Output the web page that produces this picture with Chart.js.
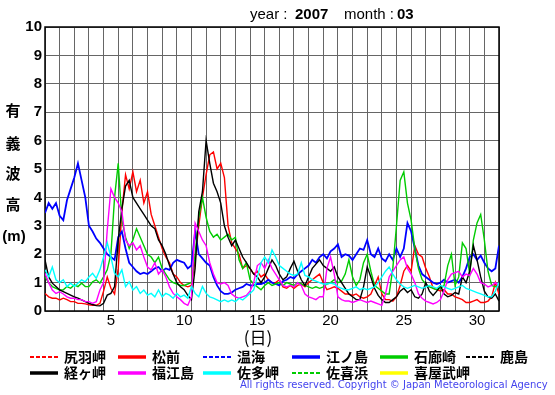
<!DOCTYPE html>
<html>
<head>
<meta charset="utf-8">
<script src="https://cdn.jsdelivr.net/npm/chart.js@4.4.0/dist/chart.umd.min.js"></script>
<style>
html, body { margin: 0; padding: 0; background: #fff; }
</style>
</head>
<body>
<canvas id="wave" width="555" height="395"></canvas>
<script>
// one value every 6 hours, day 0 = 1 March 00:00
var sampleStep = 0.25;
var dayLabels = [5, 10, 15, 20, 25, 30];

var stationNames = ['尻羽岬', '松前', '温海', '江ノ島', '石廊崎', '鹿島', '経ヶ岬', '福江島', '佐多岬', '佐喜浜', '喜屋武岬'];
var stationColors = ['#ff0000', '#ff0000', '#0000ff', '#0000ff', '#00cc00', '#000000', '#000000', '#ff00ff', '#00ffff', '#00cc00', '#ffff00'];
var stationDashed = [true, false, true, false, false, true, false, false, false, true, false];

var matsumae = [
  0.62, 0.5, 0.45, 0.45,  0.39, 0.45, 0.4, 0.33,  0.33, 0.27, 0.27, 0.25,  0.22, 0.2, 0.2, 0.27,
  0.7, 1.2, 0.8, 0.6,  1.5, 3.5, 4.8, 4.3,  4.9, 4.2, 4.6, 3.8,  4.2, 3.4, 3.0, 2.6,
  2.2, 1.9, 1.7, 1.3,  1.2, 1.0, 0.9, 0.85,  0.9, 1.8, 3.0, 4.0,  4.8, 5.5, 5.6, 5.0,
  5.2, 4.7, 3.0, 2.4,  2.2, 2.0, 1.5, 1.6,  1.5, 1.3, 1.4, 1.2,  1.3, 1.1, 1.0, 1.0,
  1.1, 0.85, 0.8, 0.9,  0.8, 0.9, 0.95, 0.85,  1.0, 1.1, 1.2, 1.3,  1.0, 0.75, 0.8, 0.85,
  0.8, 0.7, 0.6, 0.6,  0.55, 0.6, 0.5, 0.45,  0.5, 0.6, 0.9, 1.2,  0.6, 0.4, 0.4, 0.35,
  0.5, 0.9, 1.4, 1.6,  1.4, 2.3, 2.0, 1.9,  1.5, 1.2, 0.8, 0.75,  0.7, 0.75, 0.6, 0.6,
  0.5, 0.45, 0.4, 0.3,  0.3, 0.35, 0.4, 0.3,  0.3, 0.35, 0.5, 1.0,  0.6
];
var enoshima = [
  3.45, 3.8, 3.6, 3.8,  3.35, 3.2, 3.9, 4.3,  4.7, 5.2, 4.6, 4.0,  3.0, 2.8, 2.55, 2.4,
  2.2, 2.0, 1.9, 1.8,  2.6, 2.8, 2.2, 1.7,  1.55, 1.4, 1.3, 1.35,  1.3, 1.4, 1.5, 1.55,
  1.4, 1.5, 1.45, 1.7,  1.8, 1.75, 1.7, 1.5,  1.6, 2.8, 2.0, 1.85,  1.7, 1.6, 1.2, 0.9,
  0.7, 0.6, 0.6, 0.65,  0.75, 0.8, 0.85, 0.95,  0.9, 0.9, 0.95, 0.95,  1.0, 1.1, 1.0, 0.95,
  0.9, 1.05, 1.1, 1.2,  1.15, 1.3, 1.4, 1.5,  1.6, 1.8, 1.7, 1.9,  2.0, 1.85, 2.1, 2.2,
  2.35, 1.9, 2.0, 1.95,  1.8, 2.0, 2.2, 2.15,  2.5, 2.0, 1.9, 2.2,  1.85, 1.75, 2.0, 1.8,
  2.2, 1.9, 2.2, 3.1,  2.8, 2.2, 1.6, 1.3,  1.2, 1.1, 1.0, 0.95,  1.0, 1.1, 1.0, 1.05,
  1.1, 1.0, 1.2, 1.5,  1.9, 2.0, 1.8, 1.95,  1.7, 1.5, 1.4, 1.5,  2.3
];
var irozaki = [
  1.2, 1.0, 0.86, 0.8,  0.74, 0.75, 0.86, 0.8,  0.92, 0.86, 0.98, 0.86,  0.86, 1.03, 1.1, 0.98,
  1.2, 1.45, 2.0, 4.0,  5.2, 3.2, 2.6, 2.2,  2.5, 2.9, 2.6, 2.3,  2.0, 1.9, 1.7, 1.9,
  1.5, 1.3, 1.1, 1.0,  0.95, 0.9, 0.9, 0.95,  1.0, 2.0, 3.3, 4.0,  3.3, 2.8, 2.6, 2.7,
  2.5, 2.6, 2.7, 2.5,  2.6, 1.8, 1.5, 1.7,  1.1, 0.95, 0.85, 0.75,  0.9, 1.0, 0.9, 0.95,
  1.0, 0.9, 1.0, 0.95,  0.9, 1.0, 0.95, 0.9,  0.85, 0.8, 0.85, 0.8,  0.85, 0.95, 1.0, 1.1,
  1.0, 1.05, 1.3, 1.8,  1.2, 0.9, 1.1, 1.7,  2.0, 1.4, 0.9, 0.8,  0.7, 0.6, 0.6, 1.5,
  3.0, 4.6, 4.9, 3.8,  3.2, 2.2, 1.5, 1.1,  0.95, 0.85, 0.8, 0.75,  0.8, 0.9, 1.6, 2.0,
  0.9, 1.2, 2.4, 2.2,  1.3, 2.5, 3.1, 3.4,  2.5, 1.4, 0.9, 0.85,  0.9
];
var kyogamisaki = [
  1.8, 1.2, 0.98, 0.86,  0.74, 0.68, 0.62, 0.56,  0.5, 0.45, 0.39, 0.33,  0.27, 0.23, 0.19, 0.18,
  0.27, 0.56, 0.62, 0.86,  2.5, 3.6, 4.4, 4.6,  4.0, 3.8, 3.6, 3.4,  3.2, 3.0, 2.9, 2.5,
  2.3, 2.0, 1.6, 1.3,  1.0, 0.85, 0.75, 0.55,  0.4, 1.5, 3.5, 4.2,  6.0, 5.2, 4.5, 4.2,
  3.8, 3.0, 2.6, 2.3,  2.5, 2.2, 1.9, 1.7,  1.5, 1.3, 1.2, 1.0,  1.2, 1.5, 1.8, 1.6,
  1.3, 1.1, 1.2, 1.5,  1.75, 1.4, 1.1, 0.9,  1.2, 1.5, 1.65, 1.8,  1.6, 1.5, 1.4, 1.55,
  1.2, 1.0, 0.8, 0.6,  0.5, 0.4, 0.4, 0.85,  1.55, 1.2, 0.8, 0.55,  0.4, 0.3, 0.3, 0.4,
  0.5, 0.7, 0.8, 0.65,  0.75, 0.5, 0.45, 0.6,  1.0, 0.7, 0.55, 0.7,  0.9, 0.6, 0.5, 0.55,
  0.65, 0.6, 1.2, 1.0,  1.4, 2.3, 1.8, 1.2,  0.7, 0.5, 0.45, 0.6,  0.35
];
var fukuejima = [
  1.33, 1.0, 0.74, 0.62,  0.68, 0.6, 0.5, 0.45,  0.45, 0.4, 0.4, 0.33,  0.33, 0.27, 0.33, 0.74,
  1.0, 2.85, 4.3, 4.0,  3.8, 3.5, 2.5, 2.3,  2.4, 2.15, 2.3, 1.9,  1.55, 1.45, 1.7, 1.3,
  1.45, 1.2, 0.85, 0.62,  0.5, 0.4, 0.27, 0.2,  0.5, 3.1, 2.8, 2.5,  2.3, 1.7, 1.3, 1.0,
  0.95, 1.0, 0.9, 0.6,  0.5, 0.45, 0.5, 0.55,  0.7, 1.0, 1.6, 1.7,  1.5, 1.8, 1.5, 1.3,
  1.1, 0.9, 0.85, 0.9,  0.85, 1.0, 0.9, 0.6,  0.5, 0.45, 0.4, 0.5,  0.5, 1.5, 1.9, 1.3,
  0.5, 0.4, 0.35, 0.35,  0.3, 0.35, 0.4, 0.35,  0.3, 0.35, 0.3, 0.25,  0.2, 0.6, 1.2, 1.4,
  1.6, 1.8, 1.9, 1.5,  1.3, 1.0, 0.6, 0.45,  0.35, 0.3, 0.25, 0.3,  0.4, 0.7, 1.1, 1.3,
  1.35, 1.4, 1.2, 1.3,  1.25, 1.5, 1.3, 1.0,  0.95, 0.85, 0.9, 1.0,  0.9
];
var satamisaki = [
  1.45, 1.2, 1.55, 1.1,  1.0, 1.1, 0.86, 0.98,  0.86, 0.98, 1.1, 1.03,  1.2, 1.33, 1.15, 1.45,
  1.9, 2.4, 1.9, 1.33,  1.2, 1.45, 0.86, 1.03,  0.74, 0.86, 0.62, 0.74,  0.56, 0.62, 0.5, 0.74,
  0.5, 0.62, 0.56, 0.45,  0.62, 0.5, 0.56, 0.45,  0.86, 0.62, 0.5, 0.86,  0.62, 0.5, 0.45, 0.39,
  0.33, 0.39, 0.33, 0.39,  0.33, 0.45, 0.39, 0.5,  0.62, 0.74, 1.2, 1.7,  1.9, 1.7, 2.15, 1.9,
  1.6, 1.5, 1.4, 1.3,  1.25, 1.3, 1.7, 1.25,  1.2, 1.1, 1.05, 1.0,  0.95, 0.95, 0.98, 0.95,
  0.85, 0.8, 0.75, 0.75,  0.8, 0.85, 0.75, 0.8,  0.75, 0.8, 0.85, 1.0,  1.2, 1.4, 1.55, 1.3,
  1.1, 0.95, 0.85, 0.8,  0.85, 0.9, 0.85, 0.8,  0.85, 0.9, 0.85, 0.8,  0.9, 0.85, 0.8, 0.75,
  0.8, 0.85, 0.9, 0.8,  0.75, 0.7, 0.65, 0.6,  0.55, 0.5, 0.5, 0.7,  1.0
];

// stations without data this month stay null (legend only)
var stationValues = [null, matsumae, null, enoshima, irozaki, null, kyogamisaki, fukuejima, satamisaki, null, null];

function toPoints(values) {
  return values.map(function (v, i) { return { x: i * sampleStep, y: v }; });
}

var datasets = [];
stationNames.forEach(function (name, i) {
  if (!stationValues[i]) return;
  datasets.push({
    label: name,
    data: toPoints(stationValues[i]),
    borderColor: stationColors[i],
    borderWidth: stationColors[i] === '#0000ff' ? 1.8 : 1.4,
    pointRadius: 0,
    tension: 0,
    fill: false
  });
});
datasets.reverse(); // first station drawn underneath

var gridGrey = '#666666';

var pageText = {
  id: 'pageText',
  beforeDatasetsDraw: function (chart) {
    var ctx = chart.ctx, a = chart.chartArea;
    ctx.save();
    ctx.strokeStyle = '#000';
    ctx.lineWidth = 1.5;
    ctx.strokeRect(a.left, a.top, a.right - a.left, a.bottom - a.top);
    ctx.restore();
  },
  afterDraw: function (chart) {
    var ctx = chart.ctx;
    ctx.save();
    ctx.fillStyle = '#000';
    ctx.textBaseline = 'middle';

    // title
    ctx.textAlign = 'left';
    ctx.font = '15px "Liberation Sans"';
    ctx.fillText('year :', 250, 15);
    ctx.fillText('month :', 344, 15);
    ctx.font = 'bold 15px "Liberation Sans"';
    ctx.fillText('2007', 295, 15);
    ctx.fillText('03', 397, 15);

    // y axis title, stacked
    ctx.textAlign = 'center';
    ctx.font = 'bold 15px "Noto Sans CJK JP"';
    var yTitle = ['有', '義', '波', '高'];
    var yPos = [110, 143, 173, 204];
    yTitle.forEach(function (ch, i) { ctx.fillText(ch, 13, yPos[i]); });
    ctx.font = 'bold 15px "Liberation Sans"';
    ctx.fillText('(m)', 14, 237);

    // x axis title
    ctx.font = '17px "Noto Sans CJK JP"';
    ctx.fillText('(日)', 258, 338);

    // legend
    var cols = [30, 118, 203, 292, 380, 466];
    var rows = [357, 373];
    ctx.textAlign = 'left';
    ctx.font = 'bold 14px "Noto Sans CJK JP"';
    stationNames.forEach(function (name, i) {
      var r = i < 6 ? 0 : 1;
      var c = i < 6 ? i : i - 6;
      var x = cols[c], y = rows[r];
      ctx.beginPath();
      ctx.strokeStyle = stationColors[i];
      if (stationDashed[i]) {
        ctx.lineWidth = 2;
        ctx.setLineDash([4, 2]);
      } else {
        ctx.lineWidth = 3.5;
        ctx.setLineDash([]);
      }
      ctx.moveTo(x, y);
      ctx.lineTo(x + 28, y);
      ctx.stroke();
      ctx.setLineDash([]);
      ctx.fillStyle = '#000';
      ctx.fillText(name, x + 34, y);
    });

    // copyright
    ctx.font = '10px "DejaVu Sans"';
    ctx.fillStyle = '#4444ee';
    ctx.fillText('All rights reserved. Copyright \u00a9 Japan Meteorological Agency', 240, 385, 309);
    ctx.restore();
  }
};

new Chart(document.getElementById('wave'), {
  type: 'line',
  data: { datasets: datasets },
  plugins: [pageText],
  options: {
    responsive: false,
    animation: false,
    layout: { padding: { top: 27, right: 56, left: 0, bottom: 0 } },
    plugins: { legend: { display: false }, tooltip: { enabled: false } },
    scales: {
      x: {
        type: 'linear',
        min: 0,
        max: 31,
        afterFit: function (scale) { scale.height = 84; },
        ticks: {
          stepSize: 0.5,
          autoSkip: false,
          maxRotation: 0,
          padding: 1,
          color: '#000',
          font: { family: 'Liberation Sans', size: 15 },
          callback: function (v) {
            var day = v + 0.5;
            return dayLabels.indexOf(day) >= 0 ? String(day) : '';
          }
        },
        grid: {
          drawTicks: false,
          lineWidth: 1,
          color: function (c) {
            return c.tick && c.tick.value % 1 === 0 ? gridGrey : 'rgba(0,0,0,0)';
          }
        },
        border: { display: false }
      },
      y: {
        min: 0,
        max: 10,
        afterFit: function (scale) { scale.width = 45; },
        ticks: {
          stepSize: 1,
          padding: 3,
          color: '#000',
          font: { family: 'Liberation Sans', size: 15, weight: 'bold' }
        },
        grid: { drawTicks: false, color: gridGrey, lineWidth: 1 },
        border: { display: false }
      }
    }
  }
});
</script>
</body>
</html>
